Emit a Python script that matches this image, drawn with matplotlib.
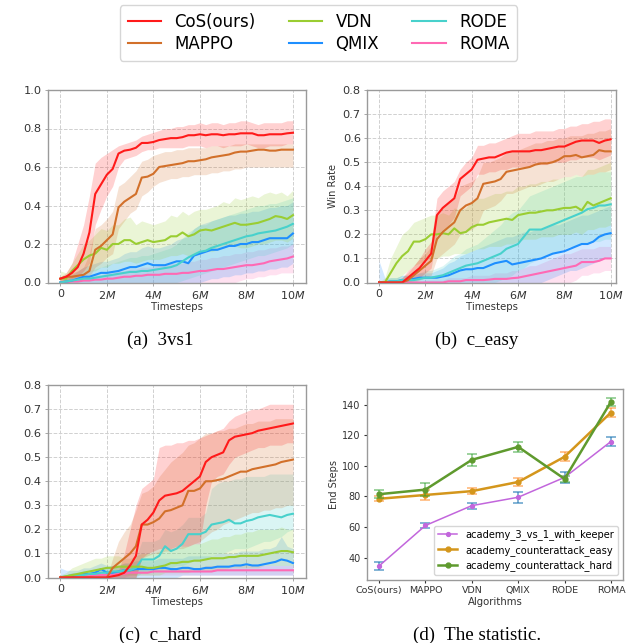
import numpy as np
import matplotlib
matplotlib.use("Agg")
import matplotlib.pyplot as plt
from matplotlib.patches import Rectangle

# ---------------- data ----------------
timesteps_m = np.linspace(0, 10, 41)  # evaluation points, millions of steps

methods = ["CoS(ours)", "MAPPO", "VDN", "QMIX", "RODE", "ROMA"]
colors = {"CoS(ours)": "#ff1a1a", "MAPPO": "#d2702a", "VDN": "#9acd32",
          "QMIX": "#1e8fff", "RODE": "#48d1cc", "ROMA": "#ff69b4"}

# ---- (a) 3vs1 ----
cos_a = [0.02, 0.03, 0.05, 0.08, 0.15, 0.26, 0.46, 0.51, 0.56, 0.59,
         0.67, 0.685, 0.69, 0.70, 0.725, 0.725, 0.73, 0.74, 0.745, 0.75,
         0.75, 0.755, 0.765, 0.765, 0.77, 0.765, 0.77, 0.77, 0.765, 0.77,
         0.77, 0.775, 0.775, 0.775, 0.765, 0.765, 0.77, 0.77, 0.77, 0.775,
         0.778]
cos_a_lo = [0.01, 0.01, 0.02, 0.03, 0.06, 0.10, 0.30, 0.38, 0.45, 0.50,
            0.60, 0.64, 0.65, 0.66, 0.68, 0.69, 0.69, 0.70, 0.70, 0.70,
            0.70, 0.70, 0.71, 0.71, 0.71, 0.70, 0.71, 0.71, 0.70, 0.71,
            0.71, 0.71, 0.72, 0.71, 0.70, 0.70, 0.71, 0.71, 0.71, 0.72,
            0.72]
cos_a_hi = [0.03, 0.05, 0.10, 0.20, 0.30, 0.45, 0.62, 0.65, 0.67, 0.69,
            0.71, 0.72, 0.73, 0.74, 0.76, 0.77, 0.78, 0.79, 0.80, 0.80,
            0.81, 0.81, 0.82, 0.82, 0.83, 0.82, 0.83, 0.83, 0.82, 0.83,
            0.83, 0.84, 0.84, 0.83, 0.82, 0.83, 0.83, 0.83, 0.83, 0.84,
            0.84]
mappo_a = [0.02, 0.03, 0.03, 0.035, 0.04, 0.06, 0.17, 0.19, 0.22, 0.25,
           0.39, 0.42, 0.44, 0.46, 0.545, 0.55, 0.565, 0.60, 0.605, 0.61,
           0.615, 0.62, 0.63, 0.63, 0.635, 0.64, 0.65, 0.655, 0.66, 0.665,
           0.675, 0.68, 0.68, 0.685, 0.69, 0.69, 0.685, 0.685, 0.69, 0.69,
           0.69]
mappo_a_lo = [0.01, 0.01, 0.02, 0.02, 0.02, 0.03, 0.08, 0.10, 0.13, 0.15,
              0.28, 0.32, 0.36, 0.38, 0.45, 0.47, 0.50, 0.52, 0.53, 0.54,
              0.54, 0.55, 0.55, 0.56, 0.56, 0.56, 0.57, 0.57, 0.58, 0.58,
              0.59, 0.59, 0.60, 0.60, 0.60, 0.60, 0.60, 0.60, 0.60, 0.60,
              0.60]
mappo_a_hi = [0.03, 0.04, 0.05, 0.06, 0.08, 0.15, 0.28, 0.30, 0.33, 0.37,
              0.50, 0.52, 0.55, 0.58, 0.63, 0.64, 0.66, 0.67, 0.68, 0.68,
              0.69, 0.69, 0.70, 0.70, 0.70, 0.70, 0.71, 0.71, 0.71, 0.71,
              0.72, 0.72, 0.72, 0.72, 0.72, 0.72, 0.72, 0.72, 0.72, 0.72,
              0.72]
vdn_a = [0.02, 0.02, 0.06, 0.09, 0.12, 0.14, 0.15, 0.18, 0.17, 0.20,
         0.20, 0.22, 0.22, 0.20, 0.21, 0.22, 0.21, 0.215, 0.22, 0.24,
         0.24, 0.26, 0.24, 0.25, 0.27, 0.275, 0.27, 0.28, 0.29, 0.30,
         0.31, 0.30, 0.30, 0.305, 0.31, 0.32, 0.33, 0.345, 0.34, 0.33,
         0.35]
vdn_a_lo = [0.0, 0.0, 0.02, 0.03, 0.05, 0.06, 0.06, 0.08, 0.08, 0.10,
            0.10, 0.11, 0.11, 0.10, 0.11, 0.12, 0.12, 0.12, 0.13, 0.14,
            0.14, 0.15, 0.14, 0.15, 0.17, 0.17, 0.16, 0.17, 0.18, 0.19,
            0.19, 0.18, 0.18, 0.19, 0.20, 0.20, 0.21, 0.22, 0.22, 0.21,
            0.23]
vdn_a_hi = [0.06, 0.05, 0.10, 0.15, 0.20, 0.22, 0.25, 0.28, 0.27, 0.30,
            0.30, 0.33, 0.34, 0.30, 0.32, 0.31, 0.30, 0.31, 0.32, 0.35,
            0.34, 0.37, 0.35, 0.37, 0.38, 0.38, 0.39, 0.40, 0.42, 0.41,
            0.44, 0.43, 0.44, 0.45, 0.44, 0.46, 0.47, 0.46, 0.47, 0.45,
            0.48]
qmix_a = [0.0, 0.005, 0.01, 0.02, 0.03, 0.03, 0.04, 0.05, 0.05, 0.055,
          0.06, 0.07, 0.08, 0.08, 0.09, 0.10, 0.09, 0.09, 0.09, 0.10,
          0.11, 0.11, 0.10, 0.14, 0.15, 0.16, 0.17, 0.17, 0.18, 0.19,
          0.19, 0.20, 0.20, 0.21, 0.21, 0.22, 0.23, 0.23, 0.23, 0.23,
          0.255]
qmix_a_lo = [0.0, 0.0, 0.0, 0.0, 0.0, 0.0, 0.0, 0.0, 0.0, 0.0,
             0.0, 0.0, 0.0, 0.0, 0.0, 0.0, 0.0, 0.0, 0.0, 0.0,
             0.0, 0.0, 0.0, 0.0, 0.0, 0.01, 0.02, 0.02, 0.03, 0.03,
             0.04, 0.04, 0.05, 0.05, 0.06, 0.06, 0.07, 0.07, 0.08, 0.08,
             0.10]
qmix_a_hi = [0.01, 0.02, 0.04, 0.06, 0.08, 0.09, 0.10, 0.11, 0.11, 0.12,
             0.13, 0.15, 0.16, 0.16, 0.18, 0.19, 0.18, 0.18, 0.19, 0.20,
             0.22, 0.23, 0.24, 0.28, 0.30, 0.31, 0.32, 0.33, 0.34, 0.35,
             0.35, 0.36, 0.36, 0.37, 0.37, 0.38, 0.39, 0.39, 0.40, 0.40,
             0.42]
rode_a = [0.0, 0.005, 0.01, 0.015, 0.02, 0.02, 0.025, 0.03, 0.035, 0.04,
          0.045, 0.05, 0.055, 0.055, 0.06, 0.06, 0.065, 0.07, 0.075, 0.08,
          0.09, 0.11, 0.13, 0.145, 0.16, 0.165, 0.18, 0.19, 0.20, 0.21,
          0.22, 0.23, 0.24, 0.245, 0.255, 0.26, 0.265, 0.27, 0.28, 0.29,
          0.305]
rode_a_lo = [0.0, 0.0, 0.0, 0.0, 0.0, 0.0, 0.0, 0.0, 0.0, 0.0,
             0.0, 0.0, 0.0, 0.0, 0.0, 0.0, 0.0, 0.0, 0.0, 0.0,
             0.0, 0.01, 0.02, 0.03, 0.04, 0.05, 0.06, 0.07, 0.08, 0.09,
             0.10, 0.11, 0.12, 0.13, 0.14, 0.14, 0.15, 0.16, 0.17, 0.18,
             0.20]
rode_a_hi = [0.01, 0.02, 0.03, 0.04, 0.05, 0.06, 0.07, 0.08, 0.09, 0.10,
             0.11, 0.12, 0.13, 0.13, 0.14, 0.14, 0.15, 0.16, 0.17, 0.18,
             0.20, 0.23, 0.26, 0.28, 0.30, 0.30, 0.32, 0.33, 0.34, 0.35,
             0.36, 0.37, 0.38, 0.39, 0.40, 0.40, 0.41, 0.41, 0.42, 0.43,
             0.44]
roma_a = [0.0, 0.0, 0.005, 0.005, 0.01, 0.01, 0.015, 0.015, 0.02, 0.02,
          0.025, 0.03, 0.03, 0.035, 0.035, 0.04, 0.04, 0.04, 0.045, 0.045,
          0.045, 0.05, 0.05, 0.055, 0.06, 0.06, 0.065, 0.07, 0.07, 0.075,
          0.08, 0.085, 0.09, 0.09, 0.095, 0.10, 0.11, 0.115, 0.12, 0.125,
          0.135]
roma_a_lo = [0.0, 0.0, 0.0, 0.0, 0.0, 0.0, 0.0, 0.0, 0.0, 0.0,
             0.0, 0.0, 0.0, 0.0, 0.0, 0.0, 0.0, 0.0, 0.0, 0.0,
             0.0, 0.0, 0.0, 0.0, 0.0, 0.0, 0.0, 0.0, 0.0, 0.0,
             0.0, 0.01, 0.02, 0.02, 0.03, 0.03, 0.04, 0.04, 0.05, 0.05,
             0.05]
roma_a_hi = [0.01, 0.01, 0.02, 0.02, 0.03, 0.03, 0.04, 0.04, 0.05, 0.05,
             0.06, 0.06, 0.07, 0.07, 0.08, 0.08, 0.08, 0.09, 0.09, 0.10,
             0.10, 0.10, 0.11, 0.11, 0.12, 0.12, 0.13, 0.13, 0.14, 0.14,
             0.15, 0.15, 0.16, 0.16, 0.17, 0.17, 0.18, 0.18, 0.19, 0.19,
             0.20]

# ---- (b) c_easy ----
cos_b = [0.0, 0.0, 0.0, 0.0, 0.0, 0.02, 0.04, 0.06, 0.09, 0.12,
         0.28, 0.31, 0.33, 0.35, 0.43, 0.45, 0.47, 0.51, 0.515, 0.52,
         0.52, 0.53, 0.54, 0.545, 0.545, 0.545, 0.545, 0.55, 0.55, 0.555,
         0.56, 0.565, 0.565, 0.575, 0.585, 0.59, 0.59, 0.59, 0.58, 0.59,
         0.595]
cos_b_lo = [0.0, 0.0, 0.0, 0.0, 0.0, 0.0, 0.01, 0.02, 0.04, 0.06,
            0.20, 0.22, 0.24, 0.27, 0.36, 0.38, 0.40, 0.45, 0.45, 0.46,
            0.46, 0.47, 0.47, 0.48, 0.48, 0.48, 0.48, 0.49, 0.49, 0.49,
            0.50, 0.50, 0.50, 0.51, 0.51, 0.52, 0.52, 0.52, 0.51, 0.52,
            0.53]
cos_b_hi = [0.0, 0.0, 0.0, 0.01, 0.02, 0.05, 0.07, 0.10, 0.14, 0.17,
            0.35, 0.38, 0.40, 0.42, 0.47, 0.50, 0.52, 0.57, 0.57, 0.58,
            0.58, 0.59, 0.60, 0.61, 0.62, 0.62, 0.62, 0.63, 0.63, 0.63,
            0.63, 0.64, 0.64, 0.65, 0.65, 0.66, 0.66, 0.67, 0.67, 0.68,
            0.68]
mappo_b = [0.0, 0.0, 0.0, 0.0, 0.0, 0.01, 0.03, 0.05, 0.07, 0.09,
           0.18, 0.21, 0.23, 0.25, 0.30, 0.32, 0.33, 0.35, 0.41, 0.415,
           0.42, 0.43, 0.46, 0.465, 0.47, 0.475, 0.48, 0.49, 0.495, 0.495,
           0.50, 0.51, 0.525, 0.525, 0.53, 0.52, 0.525, 0.53, 0.55, 0.545,
           0.545]
mappo_b_lo = [0.0, 0.0, 0.0, 0.0, 0.0, 0.0, 0.0, 0.01, 0.02, 0.03,
              0.10, 0.12, 0.14, 0.16, 0.20, 0.21, 0.22, 0.24, 0.30, 0.31,
              0.32, 0.34, 0.37, 0.37, 0.38, 0.39, 0.40, 0.40, 0.41, 0.42,
              0.42, 0.43, 0.44, 0.44, 0.45, 0.44, 0.45, 0.45, 0.46, 0.46,
              0.47]
mappo_b_hi = [0.0, 0.0, 0.0, 0.01, 0.02, 0.04, 0.07, 0.10, 0.12, 0.15,
              0.28, 0.31, 0.33, 0.35, 0.40, 0.41, 0.42, 0.44, 0.50, 0.50,
              0.51, 0.52, 0.54, 0.55, 0.55, 0.56, 0.57, 0.58, 0.58, 0.59,
              0.59, 0.60, 0.60, 0.61, 0.61, 0.61, 0.62, 0.62, 0.63, 0.63,
              0.64]
vdn_b = [0.0, 0.0, 0.04, 0.08, 0.11, 0.13, 0.17, 0.17, 0.18, 0.20,
         0.20, 0.205, 0.20, 0.225, 0.205, 0.21, 0.23, 0.24, 0.24, 0.25,
         0.255, 0.26, 0.265, 0.26, 0.28, 0.285, 0.29, 0.29, 0.295, 0.30,
         0.30, 0.305, 0.31, 0.31, 0.315, 0.30, 0.335, 0.32, 0.33, 0.34,
         0.35]
vdn_b_lo = [0.0, 0.0, 0.0, 0.01, 0.03, 0.05, 0.07, 0.08, 0.09, 0.10,
            0.10, 0.11, 0.11, 0.12, 0.12, 0.12, 0.13, 0.14, 0.14, 0.15,
            0.15, 0.15, 0.16, 0.16, 0.17, 0.18, 0.18, 0.18, 0.19, 0.19,
            0.19, 0.20, 0.20, 0.20, 0.21, 0.20, 0.22, 0.22, 0.23, 0.23,
            0.24]
vdn_b_hi = [0.0, 0.02, 0.10, 0.15, 0.20, 0.22, 0.25, 0.26, 0.27, 0.28,
            0.28, 0.29, 0.28, 0.31, 0.30, 0.31, 0.34, 0.35, 0.35, 0.36,
            0.37, 0.37, 0.38, 0.38, 0.40, 0.40, 0.41, 0.41, 0.42, 0.42,
            0.43, 0.43, 0.44, 0.44, 0.45, 0.44, 0.47, 0.47, 0.48, 0.49,
            0.50]
qmix_b = [0.0, 0.0, 0.005, 0.005, 0.01, 0.01, 0.015, 0.02, 0.02, 0.02,
          0.02, 0.025, 0.03, 0.04, 0.05, 0.055, 0.055, 0.06, 0.06, 0.07,
          0.08, 0.085, 0.09, 0.075, 0.08, 0.085, 0.09, 0.095, 0.10, 0.11,
          0.12, 0.125, 0.13, 0.14, 0.15, 0.16, 0.16, 0.17, 0.19, 0.20,
          0.205]
qmix_b_lo = [0.0, 0.0, 0.0, 0.0, 0.0, 0.0, 0.0, 0.0, 0.0, 0.0,
             0.0, 0.0, 0.0, 0.0, 0.0, 0.0, 0.0, 0.0, 0.0, 0.0,
             0.0, 0.0, 0.0, 0.0, 0.0, 0.0, 0.0, 0.0, 0.0, 0.01,
             0.02, 0.03, 0.04, 0.05, 0.05, 0.06, 0.07, 0.08, 0.09, 0.10,
             0.10]
qmix_b_hi = [0.09, 0.02, 0.02, 0.02, 0.03, 0.03, 0.03, 0.04, 0.04, 0.04,
             0.05, 0.06, 0.08, 0.09, 0.11, 0.12, 0.13, 0.14, 0.15, 0.16,
             0.17, 0.18, 0.19, 0.19, 0.20, 0.21, 0.21, 0.22, 0.22, 0.23,
             0.24, 0.24, 0.25, 0.26, 0.27, 0.28, 0.28, 0.29, 0.30, 0.31,
             0.32]
rode_b = [0.0, 0.0, 0.005, 0.005, 0.01, 0.01, 0.01, 0.015, 0.02, 0.02,
          0.025, 0.03, 0.04, 0.05, 0.06, 0.07, 0.075, 0.08, 0.09, 0.10,
          0.11, 0.12, 0.14, 0.15, 0.16, 0.19, 0.22, 0.22, 0.22, 0.23,
          0.24, 0.25, 0.26, 0.27, 0.28, 0.29, 0.305, 0.31, 0.32, 0.32,
          0.325]
rode_b_lo = [0.0, 0.0, 0.0, 0.0, 0.0, 0.0, 0.0, 0.0, 0.0, 0.0,
             0.0, 0.0, 0.0, 0.0, 0.0, 0.0, 0.0, 0.0, 0.0, 0.0,
             0.0, 0.01, 0.02, 0.03, 0.05, 0.06, 0.08, 0.09, 0.10, 0.11,
             0.12, 0.13, 0.14, 0.15, 0.15, 0.16, 0.16, 0.17, 0.17, 0.18,
             0.18]
rode_b_hi = [0.0, 0.01, 0.02, 0.02, 0.03, 0.03, 0.03, 0.04, 0.05, 0.05,
             0.06, 0.07, 0.09, 0.11, 0.12, 0.14, 0.15, 0.16, 0.18, 0.20,
             0.22, 0.24, 0.27, 0.29, 0.30, 0.33, 0.36, 0.37, 0.38, 0.39,
             0.40, 0.41, 0.42, 0.43, 0.44, 0.44, 0.45, 0.45, 0.46, 0.46,
             0.46]
roma_b = [0.0, 0.0, 0.0, 0.0, 0.0, 0.0, 0.0, 0.0, 0.0, 0.0,
          0.0, 0.0, 0.005, 0.005, 0.005, 0.01, 0.01, 0.01, 0.01, 0.012,
          0.015, 0.015, 0.015, 0.018, 0.02, 0.025, 0.03, 0.035, 0.04, 0.045,
          0.05, 0.055, 0.06, 0.065, 0.07, 0.085, 0.085, 0.085, 0.09, 0.10,
          0.10]
roma_b_lo = [0.0, 0.0, 0.0, 0.0, 0.0, 0.0, 0.0, 0.0, 0.0, 0.0,
             0.0, 0.0, 0.0, 0.0, 0.0, 0.0, 0.0, 0.0, 0.0, 0.0,
             0.0, 0.0, 0.0, 0.0, 0.0, 0.0, 0.0, 0.0, 0.0, 0.0,
             0.0, 0.0, 0.0, 0.0, 0.01, 0.03, 0.03, 0.04, 0.04, 0.05,
             0.05]
roma_b_hi = [0.0, 0.0, 0.0, 0.0, 0.0, 0.0, 0.0, 0.0, 0.01, 0.01,
             0.01, 0.01, 0.02, 0.02, 0.02, 0.02, 0.03, 0.03, 0.03, 0.03,
             0.04, 0.04, 0.04, 0.05, 0.05, 0.06, 0.07, 0.07, 0.08, 0.09,
             0.10, 0.11, 0.12, 0.12, 0.13, 0.14, 0.14, 0.14, 0.15, 0.15,
             0.15]

# ---- (c) c_hard ----
cos_c = [0.0, 0.0, 0.0, 0.0, 0.0, 0.0, 0.0, 0.0, 0.0, 0.005,
         0.01, 0.02, 0.05, 0.09, 0.22, 0.24, 0.27, 0.32, 0.34, 0.345,
         0.35, 0.36, 0.38, 0.40, 0.42, 0.48, 0.50, 0.51, 0.52, 0.57,
         0.585, 0.59, 0.595, 0.60, 0.61, 0.615, 0.62, 0.625, 0.63, 0.635,
         0.64]
cos_c_lo = [0.0, 0.0, 0.0, 0.0, 0.0, 0.0, 0.0, 0.0, 0.0, 0.0,
            0.0, 0.0, 0.0, 0.0, 0.08, 0.10, 0.11, 0.12, 0.12, 0.12,
            0.13, 0.13, 0.13, 0.14, 0.14, 0.30, 0.40, 0.42, 0.43, 0.47,
            0.50, 0.51, 0.52, 0.53, 0.54, 0.54, 0.55, 0.55, 0.55, 0.56,
            0.56]
cos_c_hi = [0.0, 0.0, 0.0, 0.0, 0.0, 0.0, 0.0, 0.0, 0.0, 0.01,
            0.03, 0.10, 0.20, 0.30, 0.37, 0.39, 0.41, 0.54, 0.55, 0.55,
            0.56, 0.56, 0.57, 0.57, 0.58, 0.59, 0.60, 0.61, 0.62, 0.65,
            0.67, 0.68, 0.69, 0.70, 0.70, 0.71, 0.72, 0.72, 0.72, 0.72,
            0.72]
mappo_c = [0.0, 0.0, 0.0, 0.0, 0.0, 0.0, 0.0, 0.0, 0.0, 0.04,
           0.06, 0.08, 0.10, 0.13, 0.22, 0.22, 0.23, 0.245, 0.275, 0.28,
           0.29, 0.30, 0.36, 0.36, 0.37, 0.40, 0.40, 0.405, 0.41, 0.42,
           0.43, 0.44, 0.44, 0.45, 0.455, 0.46, 0.465, 0.47, 0.48, 0.485,
           0.49]
mappo_c_lo = [0.0, 0.0, 0.0, 0.0, 0.0, 0.0, 0.0, 0.0, 0.0, 0.0,
              0.0, 0.0, 0.0, 0.0, 0.08, 0.09, 0.10, 0.10, 0.11, 0.11,
              0.12, 0.12, 0.13, 0.14, 0.15, 0.17, 0.19, 0.20, 0.22, 0.23,
              0.24, 0.25, 0.26, 0.27, 0.27, 0.28, 0.28, 0.29, 0.29, 0.30,
              0.30]
mappo_c_hi = [0.0, 0.0, 0.0, 0.0, 0.0, 0.0, 0.0, 0.0, 0.0, 0.08,
              0.15, 0.19, 0.22, 0.28, 0.35, 0.36, 0.38, 0.42, 0.45, 0.48,
              0.50, 0.52, 0.55, 0.56, 0.58, 0.60, 0.60, 0.61, 0.61, 0.62,
              0.62, 0.63, 0.64, 0.64, 0.65, 0.65, 0.65, 0.66, 0.66, 0.66,
              0.66]
vdn_c = [0.0, 0.005, 0.01, 0.015, 0.02, 0.025, 0.03, 0.035, 0.04, 0.04,
         0.045, 0.045, 0.045, 0.045, 0.045, 0.04, 0.04, 0.045, 0.05, 0.06,
         0.06, 0.065, 0.065, 0.07, 0.07, 0.075, 0.08, 0.08, 0.08, 0.085,
         0.085, 0.09, 0.09, 0.09, 0.09, 0.095, 0.10, 0.105, 0.11, 0.11,
         0.105]
vdn_c_lo = [0.0, 0.0, 0.0, 0.0, 0.0, 0.0, 0.01, 0.01, 0.01, 0.01,
            0.01, 0.01, 0.01, 0.01, 0.01, 0.01, 0.01, 0.01, 0.02, 0.02,
            0.02, 0.02, 0.02, 0.03, 0.03, 0.03, 0.03, 0.03, 0.03, 0.04,
            0.04, 0.04, 0.04, 0.04, 0.04, 0.05, 0.05, 0.05, 0.05, 0.05,
            0.05]
vdn_c_hi = [0.01, 0.02, 0.04, 0.05, 0.06, 0.07, 0.08, 0.08, 0.09, 0.09,
            0.09, 0.08, 0.08, 0.09, 0.10, 0.10, 0.10, 0.11, 0.12, 0.12,
            0.12, 0.13, 0.13, 0.14, 0.14, 0.15, 0.16, 0.16, 0.17, 0.17,
            0.18, 0.18, 0.19, 0.19, 0.20, 0.20, 0.20, 0.20, 0.21, 0.20,
            0.20]
qmix_c = [0.0, 0.0, 0.005, 0.01, 0.015, 0.015, 0.02, 0.035, 0.02, 0.02,
          0.025, 0.03, 0.03, 0.035, 0.035, 0.035, 0.035, 0.04, 0.04, 0.035,
          0.035, 0.04, 0.04, 0.035, 0.035, 0.04, 0.04, 0.045, 0.045, 0.045,
          0.05, 0.05, 0.055, 0.05, 0.05, 0.055, 0.06, 0.065, 0.075, 0.07,
          0.06]
qmix_c_lo = [0.0, 0.0, 0.0, 0.0, 0.0, 0.0, 0.0, 0.0, 0.0, 0.0,
             0.0, 0.0, 0.0, 0.0, 0.0, 0.0, 0.0, 0.0, 0.0, 0.0,
             0.0, 0.01, 0.01, 0.01, 0.01, 0.01, 0.01, 0.01, 0.01, 0.01,
             0.01, 0.01, 0.01, 0.01, 0.01, 0.01, 0.01, 0.01, 0.01, 0.01,
             0.01]
qmix_c_hi = [0.04, 0.03, 0.03, 0.03, 0.04, 0.04, 0.05, 0.06, 0.05, 0.05,
             0.05, 0.06, 0.06, 0.07, 0.07, 0.07, 0.07, 0.08, 0.08, 0.08,
             0.08, 0.08, 0.09, 0.09, 0.09, 0.09, 0.09, 0.10, 0.10, 0.10,
             0.10, 0.11, 0.11, 0.11, 0.11, 0.12, 0.12, 0.13, 0.17, 0.13,
             0.12]
rode_c = [0.0, 0.005, 0.01, 0.01, 0.01, 0.015, 0.015, 0.02, 0.02, 0.025,
          0.025, 0.03, 0.03, 0.04, 0.075, 0.075, 0.075, 0.09, 0.13, 0.11,
          0.12, 0.14, 0.18, 0.18, 0.18, 0.19, 0.22, 0.225, 0.23, 0.24,
          0.225, 0.225, 0.235, 0.24, 0.25, 0.255, 0.26, 0.255, 0.25, 0.26,
          0.265]
rode_c_lo = [0.0, 0.0, 0.0, 0.0, 0.0, 0.0, 0.0, 0.0, 0.0, 0.0,
             0.0, 0.0, 0.0, 0.0, 0.02, 0.02, 0.03, 0.03, 0.04, 0.04,
             0.05, 0.05, 0.06, 0.07, 0.07, 0.08, 0.09, 0.10, 0.10, 0.11,
             0.12, 0.12, 0.12, 0.13, 0.14, 0.15, 0.15, 0.16, 0.17, 0.19,
             0.20]
rode_c_hi = [0.01, 0.01, 0.02, 0.02, 0.03, 0.03, 0.03, 0.04, 0.04, 0.05,
             0.05, 0.06, 0.06, 0.08, 0.15, 0.15, 0.15, 0.16, 0.20, 0.19,
             0.20, 0.22, 0.25, 0.25, 0.25, 0.27, 0.37, 0.39, 0.40, 0.40,
             0.41, 0.41, 0.42, 0.42, 0.42, 0.42, 0.43, 0.43, 0.43, 0.43,
             0.43]
roma_c = [0.0, 0.0, 0.0, 0.005, 0.005, 0.005, 0.01, 0.01, 0.01, 0.01,
          0.015, 0.015, 0.02, 0.02, 0.02, 0.02, 0.025, 0.025, 0.025, 0.025,
          0.025, 0.025, 0.025, 0.025, 0.025, 0.025, 0.025, 0.03, 0.03, 0.03,
          0.03, 0.03, 0.03, 0.03, 0.03, 0.03, 0.03, 0.03, 0.03, 0.03,
          0.03]
roma_c_lo = [0.0, 0.0, 0.0, 0.0, 0.0, 0.0, 0.0, 0.0, 0.0, 0.0,
             0.0, 0.0, 0.01, 0.01, 0.01, 0.01, 0.01, 0.01, 0.01, 0.01,
             0.01, 0.01, 0.01, 0.01, 0.01, 0.01, 0.01, 0.01, 0.01, 0.01,
             0.01, 0.01, 0.01, 0.01, 0.01, 0.01, 0.01, 0.01, 0.01, 0.01,
             0.01]
roma_c_hi = [0.01, 0.01, 0.02, 0.02, 0.02, 0.02, 0.03, 0.03, 0.03, 0.03,
             0.03, 0.03, 0.04, 0.04, 0.04, 0.04, 0.04, 0.04, 0.04, 0.04,
             0.04, 0.04, 0.04, 0.04, 0.04, 0.05, 0.05, 0.05, 0.05, 0.05,
             0.05, 0.05, 0.05, 0.05, 0.05, 0.05, 0.05, 0.05, 0.05, 0.05,
             0.05]

# ---- (d) statistic ----
algorithms = ["CoS(ours)", "MAPPO", "VDN", "QMIX", "RODE", "ROMA"]
steps_3v1 = [34.5, 61, 74, 79.5, 92.5, 116]
err_3v1 = [2.5, 1.5, 2, 3.5, 3.5, 3]
steps_easy = [78.5, 81, 83.5, 89.5, 106, 135]
err_easy = [1.5, 3, 2, 2.5, 3, 3]
steps_hard = [81.5, 84.5, 104, 112.5, 91.5, 142]
err_hard = [2.5, 4.5, 4, 3.5, 2, 2.5]

panels = {
    "a": {"CoS(ours)": (cos_a, cos_a_lo, cos_a_hi), "MAPPO": (mappo_a, mappo_a_lo, mappo_a_hi),
          "VDN": (vdn_a, vdn_a_lo, vdn_a_hi), "QMIX": (qmix_a, qmix_a_lo, qmix_a_hi),
          "RODE": (rode_a, rode_a_lo, rode_a_hi), "ROMA": (roma_a, roma_a_lo, roma_a_hi)},
    "b": {"CoS(ours)": (cos_b, cos_b_lo, cos_b_hi), "MAPPO": (mappo_b, mappo_b_lo, mappo_b_hi),
          "VDN": (vdn_b, vdn_b_lo, vdn_b_hi), "QMIX": (qmix_b, qmix_b_lo, qmix_b_hi),
          "RODE": (rode_b, rode_b_lo, rode_b_hi), "ROMA": (roma_b, roma_b_lo, roma_b_hi)},
    "c": {"CoS(ours)": (cos_c, cos_c_lo, cos_c_hi), "MAPPO": (mappo_c, mappo_c_lo, mappo_c_hi),
          "VDN": (vdn_c, vdn_c_lo, vdn_c_hi), "QMIX": (qmix_c, qmix_c_lo, qmix_c_hi),
          "RODE": (rode_c, rode_c_lo, rode_c_hi), "ROMA": (roma_c, roma_c_lo, roma_c_hi)},
}

# ---------------- figure ----------------
W, H = 626, 643
fig = plt.figure(figsize=(W / 100, H / 100), dpi=100)

def box(l, t, r, b):
    return [l / W, 1 - b / H, (r - l) / W, (b - t) / H]

ax_a = fig.add_axes(box(48, 90, 306, 282.5))
ax_b = fig.add_axes(box(367, 90, 616, 282.5))
ax_c = fig.add_axes(box(48, 385, 306, 577.5))
ax_d = fig.add_axes(box(367, 389, 623, 580))

xt = [0, 2e6, 4e6, 6e6, 8e6, 10e6]
xtl = ["0", "$2M$", "$4M$", "$6M$", "$8M$", "$10M$"]
spine_col = "#9a9a9a"
tick_col = "#333333"

handles = []
for key, ax, ymax, yt, xl in [("a", ax_a, 1.0, np.linspace(0, 1, 6), (-0.53e6, 10.56e6)),
                              ("b", ax_b, 0.8, np.linspace(0, 0.8, 9), (-0.52e6, 10.23e6)),
                              ("c", ax_c, 0.8, np.linspace(0, 0.8, 9), (-0.53e6, 10.56e6))]:
    x = timesteps_m * 1e6
    order = ["ROMA", "QMIX", "RODE", "VDN", "MAPPO", "CoS(ours)"]
    for m in order:
        mean, lo, hi = panels[key][m]
        ax.fill_between(x, lo, hi, color=colors[m], alpha=0.2, linewidth=0)
    for m in order:
        mean, lo, hi = panels[key][m]
        ln, = ax.plot(x, mean, color=colors[m], lw=1.5, label=m)
        if key == "a":
            handles.append(ln)
    ax.set_xlim(*xl)
    ax.set_ylim(0, ymax)
    ax.set_yticks(yt)
    ax.set_yticklabels([f"{v:.1f}" for v in yt], fontsize=8.2, color=tick_col)
    ax.set_xticks(xt)
    ax.set_xticklabels(xtl, fontsize=8, color=tick_col)
    ax.grid(True, linestyle="--", color="#d0d0d0", linewidth=0.7)
    ax.set_axisbelow(True)
    ax.tick_params(length=2.5, width=0.6, color=spine_col, pad=2)
    for s in ax.spines.values():
        s.set_color(spine_col)
        s.set_linewidth(1.0)
    ax.set_xlabel("Timesteps", fontsize=7.3, color=tick_col, labelpad=1)
    ax.set_ylabel("Win Rate", fontsize=7.0, color=tick_col, labelpad=3)

# legend on top
hmap = {h.get_label(): h for h in handles}
fig.legend([hmap[m] for m in methods], methods, loc="center",
           bbox_to_anchor=(318.5 / W, 1 - 33 / H), ncol=3, fontsize=12,
           frameon=True, labelspacing=0.25, handlelength=2.0, columnspacing=2.0,
           borderpad=0.45, edgecolor="#cccccc", fancybox=True)

# panel d
xd = np.arange(len(algorithms))
ax_d.errorbar(xd, steps_3v1, yerr=err_3v1, fmt="none", ecolor="#1f77b4", alpha=0.6,
              capsize=3.5, elinewidth=1.3, capthick=1.3)
ax_d.plot(xd, steps_3v1, color="#c266dc", lw=1.1, marker="o", ms=2.8,
          label="academy_3_vs_1_with_keeper")
ax_d.errorbar(xd, steps_easy, yerr=err_easy, fmt="none", ecolor="#ff7f0e", alpha=0.5,
              capsize=3.5, elinewidth=1.3, capthick=1.3)
ax_d.plot(xd, steps_easy, color="#d4961c", lw=1.8, marker="o", ms=3.5,
          label="academy_counterattack_easy")
ax_d.errorbar(xd, steps_hard, yerr=err_hard, fmt="none", ecolor="#2ca02c", alpha=0.5,
              capsize=3.5, elinewidth=1.3, capthick=1.3)
ax_d.plot(xd, steps_hard, color="#5f9a2e", lw=1.8, marker="o", ms=3.5,
          label="academy_counterattack_hard")
ax_d.set_xlim(-0.26, 5.26)
ax_d.set_ylim(25.3, 150.4)
ax_d.set_yticks([40, 60, 80, 100, 120, 140])
ax_d.tick_params(axis="y", labelsize=7, colors=tick_col, length=2.5, pad=2)
ax_d.set_xticks(xd)
ax_d.set_xticklabels(algorithms, fontsize=6.8, color=tick_col)
ax_d.tick_params(axis="x", colors=tick_col, length=2.5, pad=2)
for s in ax_d.spines.values():
    s.set_color(spine_col)
    s.set_linewidth(1.0)
ax_d.set_xlabel("Algorithms", fontsize=7.3, color=tick_col, labelpad=1)
ax_d.set_ylabel("End Steps", fontsize=7.0, color=tick_col, labelpad=2)
ax_d.legend(loc="lower right", fontsize=7.1, frameon=True, edgecolor="#cccccc",
            borderpad=0.4, labelspacing=0.45, handlelength=2.0)

# the left subfigures are cropped so their y-label is mostly cut away
for top, bot in [(80, 300), (375, 595)]:
    fig.patches.append(Rectangle((0, 1 - bot / H), 20 / W, (bot - top) / H,
                                 transform=fig.transFigure, facecolor="white",
                                 edgecolor="none", zorder=20))

# captions
cap_font = dict(family=["Liberation Serif", "DejaVu Serif"], fontsize=13.7, color="black",
                ha="center", va="baseline")
fig.text(160 / W, 1 - 345 / H, "(a)  3vs1", **cap_font)
fig.text(477 / W, 1 - 345 / H, "(b)  c_easy", **cap_font)
fig.text(160 / W, 1 - 639.5 / H, "(c)  c_hard", **cap_font)
fig.text(477 / W, 1 - 639.5 / H, "(d)  The statistic.", **cap_font)

fig.savefig("out.png", dpi=100)
